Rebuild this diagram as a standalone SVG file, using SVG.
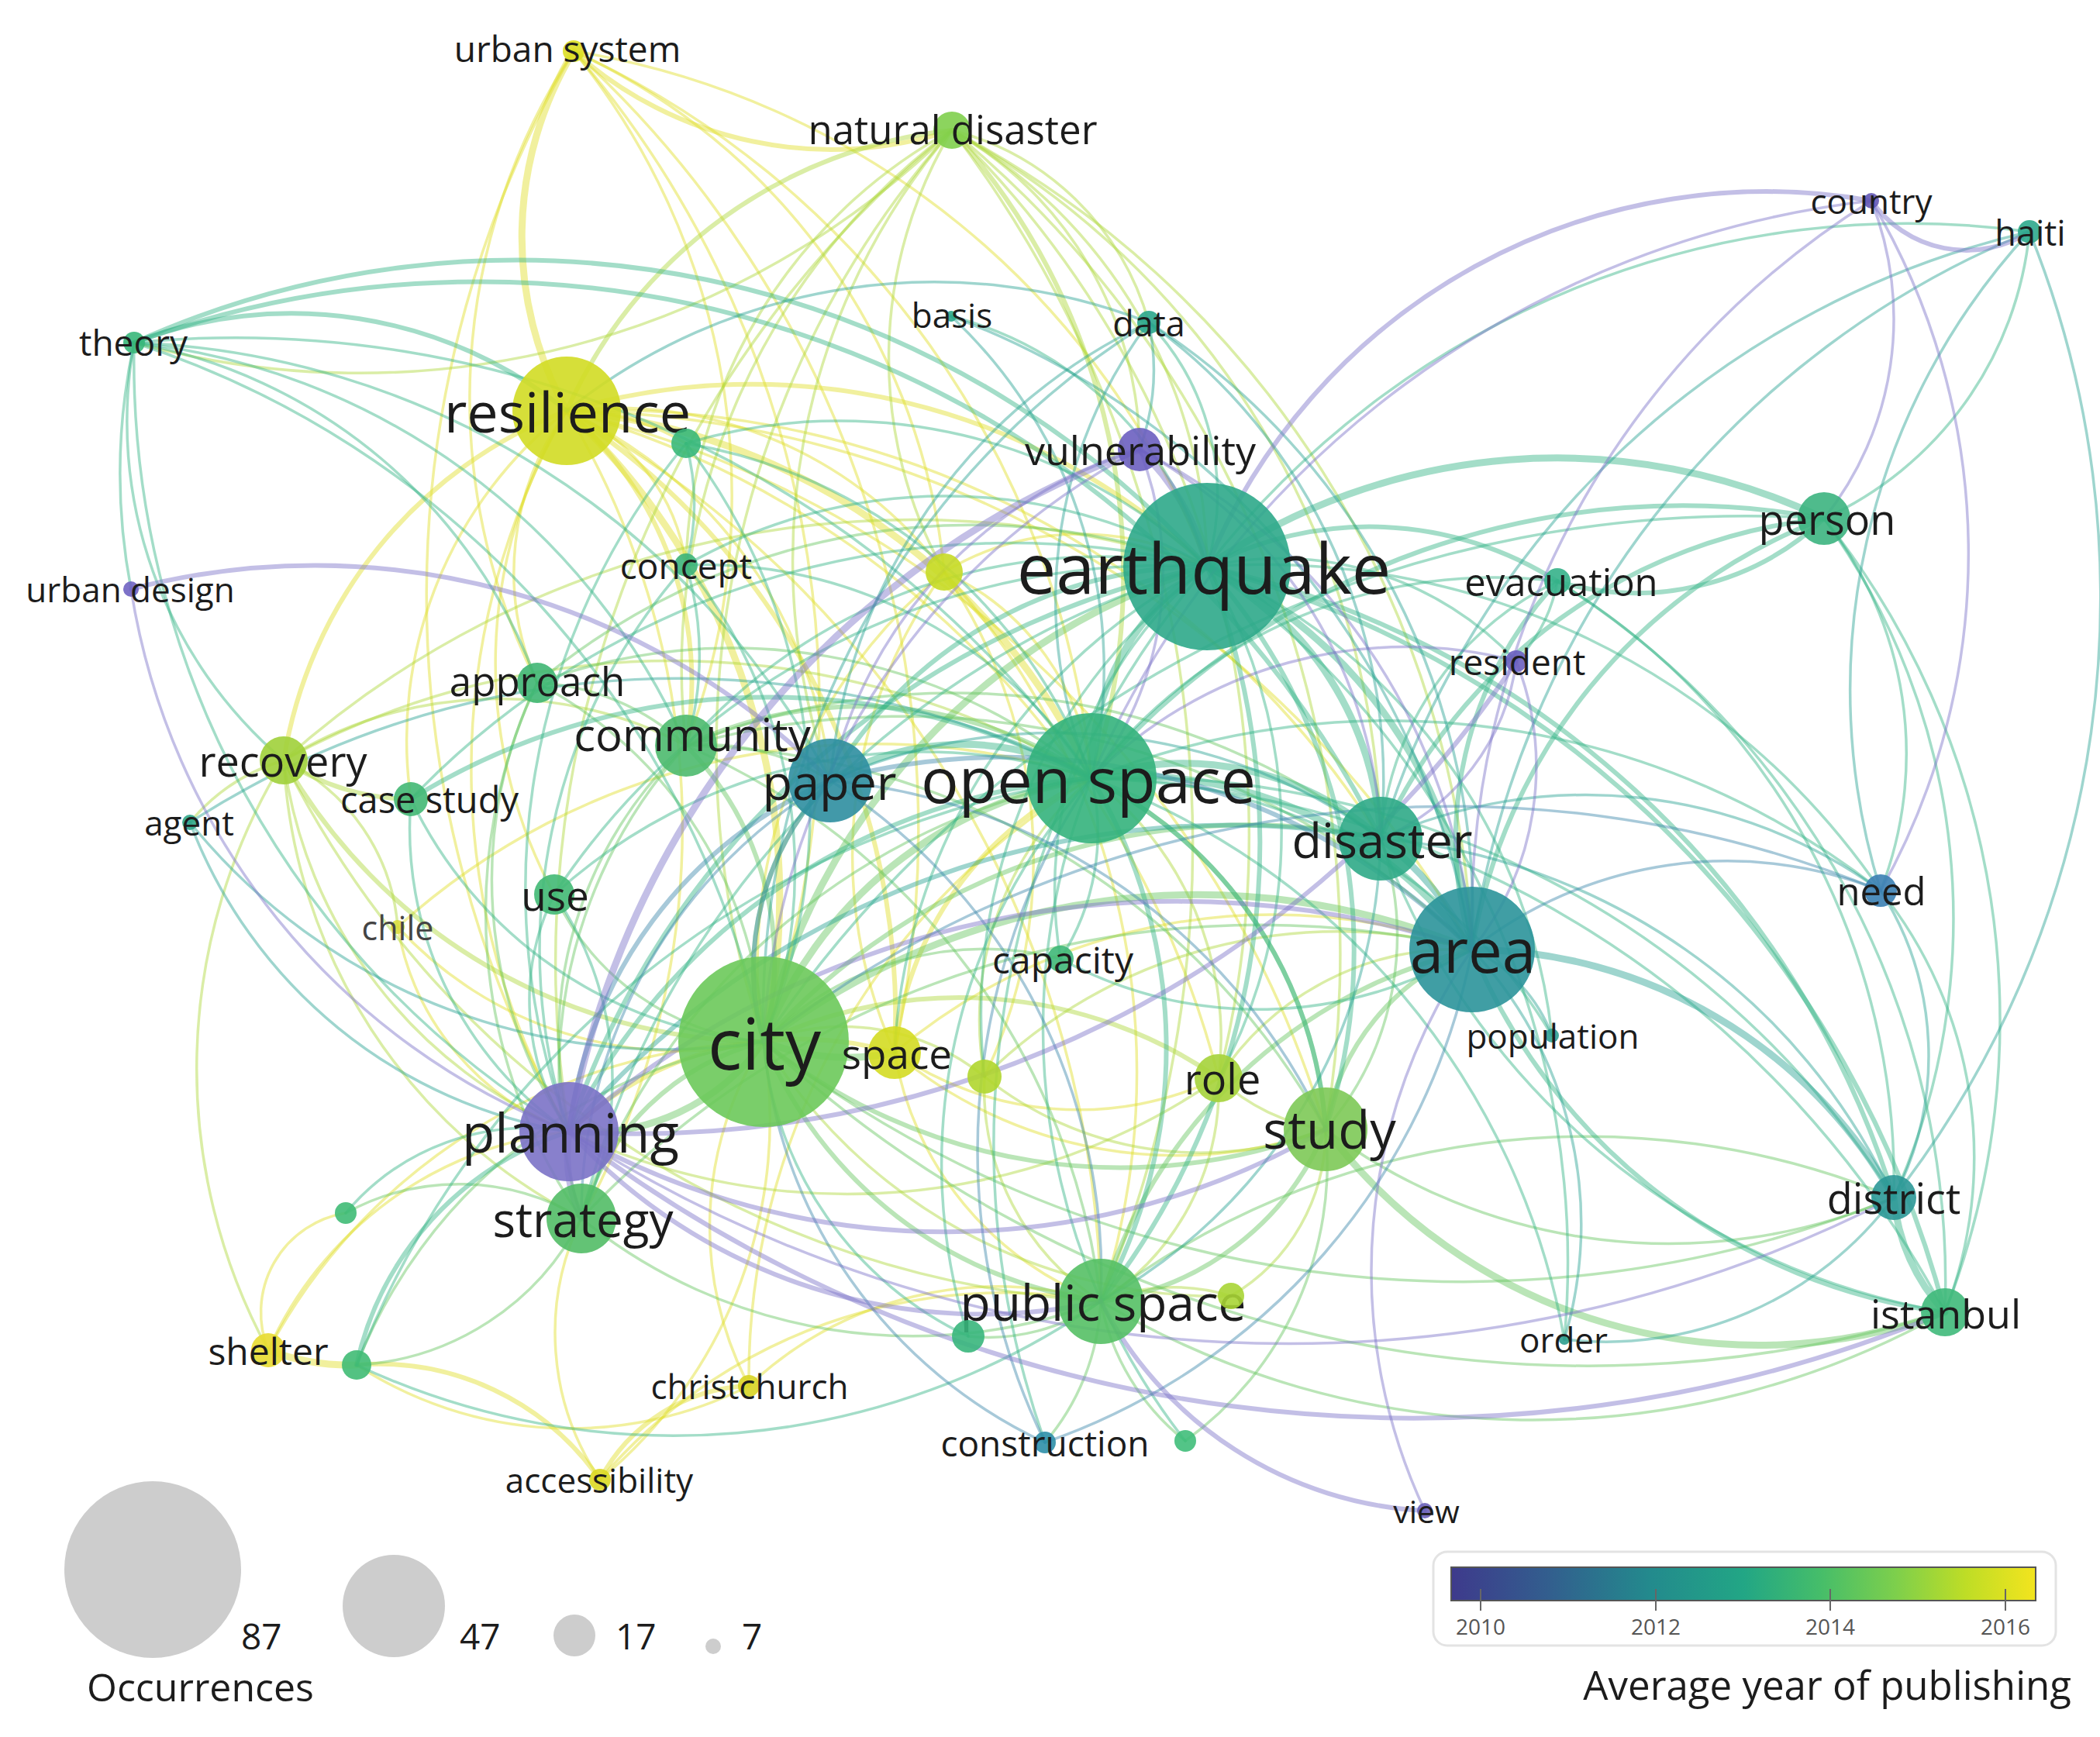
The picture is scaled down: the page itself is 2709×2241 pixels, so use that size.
<svg xmlns="http://www.w3.org/2000/svg" width="2709" height="2241" viewBox="0 0 2709 2241">
<defs>
<linearGradient id="vir" x1="0" y1="0" x2="1" y2="0">
<stop offset="0" stop-color="#3e3a8c"/>
<stop offset="0.17" stop-color="#325f8e"/>
<stop offset="0.34" stop-color="#238a8d"/>
<stop offset="0.5" stop-color="#22a685"/>
<stop offset="0.63" stop-color="#45bd6a"/>
<stop offset="0.76" stop-color="#7dcf4c"/>
<stop offset="0.88" stop-color="#bedd26"/>
<stop offset="1" stop-color="#f3e41e"/>
</linearGradient>
<style>
.e path{fill:none;stroke-opacity:.45;stroke-width:3.5;stroke-linecap:round}
.e path.m{stroke-width:6}
.e path.k{stroke-width:9}
.cY path{stroke:#e0dd28}
.cV path{stroke:#aed63a}
.cL path{stroke:#66c660}
.cG path{stroke:#33b485}
.cT path{stroke:#27a292}
.cB path{stroke:#3b88aa}
.cP path{stroke:#7a70c8}
.nd circle{fill-opacity:.9}
.nd text{font-family:"Open Sans","Noto Sans","DejaVu Sans",sans-serif;fill:#1c1c1c;text-anchor:middle;dominant-baseline:central}
.lg{font-family:"Open Sans","Noto Sans","DejaVu Sans",sans-serif;fill:#1c1c1c}
</style>
</defs>
<rect width="2709" height="2241" fill="#fff"/>
<g id="connectors" class="e">
<g class="cY">
<path class="k" d="M740 66A464 464 0 0 0 731 530"/>
<path class="m" d="M740 66A499 499 0 0 0 1228 168"/>
<path d="M740 66A1301 1301 0 0 1 985 1344"/>
<path d="M740 66A1357 1357 0 0 1 1154 1358"/>
<path d="M740 66A1152 1152 0 0 1 1408 1004"/>
<path d="M740 66A1053 1053 0 0 1 1557 731"/>
<path d="M740 66A825 825 0 0 1 1218 738"/>
<path d="M740 66A908 908 0 0 1 885 962"/>
<path d="M740 66A816 816 0 0 0 693 881"/>
<path d="M740 66A1394 1394 0 0 0 734 1460"/>
<path class="k" d="M731 530A853 853 0 0 1 985 1344"/>
<path d="M731 530A930 930 0 0 0 734 1460"/>
<path class="m" d="M731 530A459 459 0 0 1 885 962"/>
<path d="M731 530A353 353 0 0 0 693 881"/>
<path class="m" d="M731 530A580 580 0 0 0 366 981"/>
<path class="m" d="M731 530A850 850 0 0 1 1557 731"/>
<path class="k" d="M731 530A826 826 0 0 1 1408 1004"/>
<path d="M731 530A586 586 0 0 1 1071 1007"/>
<path d="M731 530A1186 1186 0 0 1 1781 1082"/>
<path d="M731 530A252 252 0 0 1 885 729"/>
<path class="m" d="M731 530A930 930 0 0 1 1154 1358"/>
<path d="M731 530A1348 1348 0 0 1 1710 1457"/>
<path d="M731 530A1042 1042 0 0 1 750 1572"/>
<path d="M731 530A624 624 0 0 0 715 1154"/>
<path d="M731 530A530 530 0 0 1 1218 738"/>
<path d="M731 530A1359 1359 0 0 1 1899 1225"/>
<path d="M731 530A1204 1204 0 0 1 1572 1391"/>
<path d="M731 530A1340 1340 0 0 1 1420 1679"/>
<path d="M731 530A540 540 0 0 0 530 1031"/>
<path d="M731 530A300 300 0 0 1 885 572"/>
<path d="M1218 738A649 649 0 0 0 985 1344"/>
<path d="M1218 738A327 327 0 0 1 1408 1004"/>
<path d="M1218 738A339 339 0 0 1 1557 731"/>
<path d="M1218 738A623 623 0 0 0 1154 1358"/>
<path d="M1218 738A653 653 0 0 1 1270 1389"/>
<path d="M1218 738A962 962 0 0 1 1420 1679"/>
<path class="m" d="M1154 1358A436 436 0 0 1 1408 1004"/>
<path d="M1154 1358A757 757 0 0 1 1899 1225"/>
<path d="M1154 1358A565 565 0 0 0 1710 1457"/>
<path d="M1154 1358A417 417 0 0 0 1420 1679"/>
<path class="m" d="M1154 1358A432 432 0 0 0 734 1460"/>
<path d="M1154 1358A419 419 0 0 0 1572 1391"/>
<path class="k" d="M346 1742A300 300 0 0 0 460 1761"/>
<path d="M346 1742A753 753 0 0 1 985 1344"/>
<path d="M346 1742A480 480 0 0 1 734 1460"/>
<path d="M346 1742A130 130 0 0 1 446 1565"/>
<path d="M513 1196A495 495 0 0 0 985 1344"/>
<path d="M513 1196A344 344 0 0 0 734 1460"/>
<path d="M513 1196A915 915 0 0 1 1408 1004"/>
<path d="M966 1788A444 444 0 0 1 985 1344"/>
<path class="m" d="M966 1788A227 227 0 0 0 774 1909"/>
<path d="M966 1788A467 467 0 0 1 1420 1679"/>
<path d="M966 1788A507 507 0 0 1 460 1761"/>
<path d="M966 1788A900 900 0 0 1 1408 1004"/>
<path class="m" d="M774 1909A347 347 0 0 0 460 1761"/>
<path d="M774 1909A338 338 0 0 1 750 1572"/>
<path d="M774 1909A603 603 0 0 0 985 1344"/>
<path d="M774 1909A686 686 0 0 1 1420 1679"/>
</g>
<g class="cV">
<path class="m" d="M1228 168A615 615 0 0 0 731 530"/>
<path d="M1228 168A652 652 0 0 1 1557 731"/>
<path class="m" d="M1228 168A855 855 0 0 1 1408 1004"/>
<path d="M1228 168A1201 1201 0 0 0 985 1344"/>
<path d="M1228 168A355 355 0 0 1 1482 416"/>
<path d="M1228 168A478 478 0 0 1 1470 580"/>
<path d="M1228 168A865 865 0 0 0 885 962"/>
<path d="M1228 168A854 854 0 0 0 1071 1007"/>
<path d="M1228 168A1068 1068 0 0 1 1781 1082"/>
<path d="M1228 168A1252 1252 0 0 1 1899 1225"/>
<path d="M1228 168A1090 1090 0 0 1 173 442"/>
<path d="M1228 168A1376 1376 0 0 1 1710 1457"/>
<path d="M1228 168A570 570 0 0 0 1218 738"/>
<path d="M1228 168A1270 1270 0 0 1 1572 1391"/>
<path d="M1228 168A657 657 0 0 0 885 729"/>
<path d="M1228 168A1523 1523 0 0 1 1420 1679"/>
<path d="M1228 168A1383 1383 0 0 0 734 1460"/>
<path class="m" d="M366 981A718 718 0 0 0 985 1344"/>
<path d="M366 981A604 604 0 0 0 734 1460"/>
<path d="M366 981A705 705 0 0 0 750 1572"/>
<path d="M366 981A761 761 0 0 0 346 1742"/>
<path d="M366 981A1042 1042 0 0 1 1408 1004"/>
<path class="m" d="M366 981A300 300 0 0 0 530 1031"/>
<path d="M366 981A250 250 0 0 0 245 1061"/>
<path d="M366 981A1264 1264 0 0 0 1420 1679"/>
<path d="M366 981A1217 1217 0 0 1 1557 731"/>
<path d="M366 981A260 260 0 0 1 513 1196"/>
<path d="M366 981A519 519 0 0 1 885 962"/>
<path d="M1270 1389A288 288 0 0 0 985 1344"/>
<path d="M1270 1389A409 409 0 0 1 1408 1004"/>
<path d="M1270 1389A326 326 0 0 0 1420 1679"/>
<path d="M1270 1389A445 445 0 0 0 1710 1457"/>
<path d="M1270 1389A650 650 0 0 1 1899 1225"/>
<path class="m" d="M1572 1391A589 589 0 0 0 985 1344"/>
<path d="M1572 1391A420 420 0 0 0 1408 1004"/>
<path d="M1572 1391A367 367 0 0 1 1899 1225"/>
<path d="M1572 1391A326 326 0 0 1 1420 1679"/>
<path d="M1572 1391A250 250 0 0 0 1710 1457"/>
<path d="M1572 1391A841 841 0 0 1 734 1460"/>
<path d="M1588 1672A250 250 0 0 0 1420 1679"/>
<path d="M1588 1672A247 247 0 0 0 1710 1457"/>
<path d="M1588 1672A686 686 0 0 1 985 1344"/>
</g>
<g class="cL">
<path class="k" d="M985 1344A277 277 0 0 1 734 1460"/>
<path class="k" d="M985 1344A300 300 0 0 0 1154 1358"/>
<path class="m" d="M985 1344A734 734 0 0 0 1710 1457"/>
<path class="m" d="M985 1344A549 549 0 0 0 1420 1679"/>
<path class="m" d="M985 1344A327 327 0 0 0 750 1572"/>
<path d="M985 1344A670 670 0 0 0 460 1761"/>
<path d="M985 1344A1472 1472 0 0 0 2443 1545"/>
<path d="M985 1344A1563 1563 0 0 0 2509 1693"/>
<path class="k" d="M985 1344A543 543 0 0 1 1408 1004"/>
<path class="k" d="M985 1344A922 922 0 0 1 1899 1225"/>
<path class="m" d="M985 1344A838 838 0 0 1 1781 1082"/>
<path class="m" d="M985 1344A348 348 0 0 1 1071 1007"/>
<path class="k" d="M985 1344A838 838 0 0 1 1557 731"/>
<path d="M985 1344A330 330 0 0 1 715 1154"/>
<path d="M985 1344A398 398 0 0 1 1368 1237"/>
<path class="m" d="M1710 1457A365 365 0 0 1 1420 1679"/>
<path d="M1710 1457A738 738 0 0 0 2443 1545"/>
<path class="k" d="M1710 1457A700 700 0 0 0 2509 1693"/>
<path d="M1710 1457A441 441 0 0 1 1529 1859"/>
<path class="m" d="M1710 1457A299 299 0 0 1 1899 1225"/>
<path d="M1710 1457A382 382 0 0 0 1781 1082"/>
<path class="m" d="M1710 1457A544 544 0 0 0 1408 1004"/>
<path d="M750 1572A678 678 0 0 0 1420 1679"/>
<path d="M750 1572A346 346 0 0 1 460 1761"/>
<path d="M750 1572A304 304 0 0 0 446 1565"/>
<path d="M750 1572A869 869 0 0 1 1408 1004"/>
<path d="M750 1572A1200 1200 0 0 1 1899 1225"/>
<path d="M1420 1679A300 300 0 0 1 1348 1861"/>
<path d="M1420 1679A250 250 0 0 1 1249 1724"/>
<path d="M1420 1679A300 300 0 0 0 1529 1859"/>
<path class="m" d="M1420 1679A660 660 0 0 1 1899 1225"/>
<path d="M1420 1679A1089 1089 0 0 0 2509 1693"/>
<path d="M1420 1679A1032 1032 0 0 1 2443 1545"/>
<path class="m" d="M885 962A395 395 0 0 1 985 1344"/>
<path class="m" d="M885 962A525 525 0 0 1 1408 1004"/>
<path d="M885 962A520 520 0 0 0 734 1460"/>
<path d="M885 962A300 300 0 0 1 1071 1007"/>
<path d="M885 962A904 904 0 0 1 1781 1082"/>
<path d="M885 962A1048 1048 0 0 1 1899 1225"/>
<path d="M885 962A962 962 0 0 1 1710 1457"/>
<path d="M885 962A625 625 0 0 0 750 1572"/>
<path d="M885 962A895 895 0 0 1 1420 1679"/>
<path d="M693 881A547 547 0 0 1 985 1344"/>
<path d="M693 881A580 580 0 0 0 734 1460"/>
<path d="M693 881A725 725 0 0 1 1408 1004"/>
<path d="M693 881A300 300 0 0 1 885 962"/>
<path d="M693 881A693 693 0 0 0 750 1572"/>
<path d="M693 881A877 877 0 0 1 1557 731"/>
</g>
<g class="cG">
<path class="k" d="M1557 731A311 311 0 0 0 1408 1004"/>
<path class="k" d="M1557 731A601 601 0 0 1 1899 1225"/>
<path class="k" d="M1557 731A416 416 0 0 1 1781 1082"/>
<path class="m" d="M1557 731A559 559 0 0 0 1071 1007"/>
<path class="m" d="M1557 731A1099 1099 0 0 0 734 1460"/>
<path class="m" d="M1557 731A742 742 0 0 1 1710 1457"/>
<path class="m" d="M1557 731A958 958 0 0 1 1420 1679"/>
<path class="m" d="M1557 731A452 452 0 0 1 2009 750"/>
<path d="M1557 731A417 417 0 0 1 1956 853"/>
<path d="M1557 731A711 711 0 0 0 885 962"/>
<path d="M1557 731A540 540 0 0 0 1368 1237"/>
<path d="M1557 731A745 745 0 0 0 1154 1358"/>
<path d="M1557 731A660 660 0 0 1 1572 1391"/>
<path class="m" d="M1557 731A1203 1203 0 0 1 2443 1545"/>
<path class="m" d="M1557 731A1354 1354 0 0 1 2509 1693"/>
<path d="M1557 731A964 964 0 0 1 2426 1149"/>
<path d="M1557 731A751 751 0 0 1 2002 1336"/>
<path d="M1557 731A1166 1166 0 0 0 750 1572"/>
<path d="M1557 731A942 942 0 0 0 715 1154"/>
<path d="M1557 731A718 718 0 0 0 1270 1389"/>
<path d="M1557 731A1098 1098 0 0 1 2018 1728"/>
<path d="M1557 731A1149 1149 0 0 0 1348 1861"/>
<path class="k" d="M1557 731A798 798 0 0 1 2353 669"/>
<path class="m" d="M173 442A1200 1200 0 0 1 1557 731"/>
<path d="M1557 731A324 324 0 0 0 1482 416"/>
<path d="M1557 731A462 462 0 0 0 1227 408"/>
<path d="M1557 731A1146 1146 0 0 1 2618 299"/>
<path class="k" d="M1408 1004A538 538 0 0 1 1899 1225"/>
<path class="k" d="M1408 1004A381 381 0 0 1 1781 1082"/>
<path class="m" d="M1408 1004A814 814 0 0 0 734 1460"/>
<path class="m" d="M1408 1004A544 544 0 0 1 1710 1457"/>
<path class="m" d="M1408 1004A675 675 0 0 1 1420 1679"/>
<path d="M1408 1004A300 300 0 0 1 1368 1237"/>
<path d="M1408 1004A1168 1168 0 0 1 2443 1545"/>
<path d="M1408 1004A1299 1299 0 0 1 2509 1693"/>
<path d="M1408 1004A1028 1028 0 0 1 2426 1149"/>
<path d="M1408 1004A709 709 0 0 0 715 1154"/>
<path d="M1408 1004A680 680 0 0 1 2002 1336"/>
<path d="M1408 1004A947 947 0 0 1 2018 1728"/>
<path class="m" d="M1408 1004A1003 1003 0 0 1 2353 669"/>
<path d="M1408 1004A652 652 0 0 1 2009 750"/>
<path class="k" d="M1408 1004A337 337 0 0 0 1071 1007"/>
<path class="m" d="M173 442A565 565 0 0 1 731 530"/>
<path d="M173 442A1357 1357 0 0 1 1408 1004"/>
<path d="M173 442A1214 1214 0 0 1 985 1344"/>
<path d="M173 442A1162 1162 0 0 0 734 1460"/>
<path d="M173 442A882 882 0 0 1 885 962"/>
<path d="M173 442A800 800 0 0 0 169 760"/>
<path d="M173 442A680 680 0 0 1 693 881"/>
<path d="M173 442A1061 1061 0 0 1 1071 1007"/>
<path class="m" d="M173 442A1300 1300 0 0 1 1781 1082"/>
<path d="M173 442A573 573 0 0 0 366 981"/>
<path d="M885 572A691 691 0 0 1 1557 731"/>
<path d="M885 572A778 778 0 0 1 985 1344"/>
<path d="M885 572A901 901 0 0 0 734 1460"/>
<path d="M885 572A678 678 0 0 1 1408 1004"/>
<path d="M885 572A300 300 0 0 1 885 729"/>
<path d="M885 729A623 623 0 0 1 985 1344"/>
<path d="M885 729A591 591 0 0 1 1408 1004"/>
<path d="M885 729A672 672 0 0 1 1557 731"/>
<path d="M885 729A746 746 0 0 0 734 1460"/>
<path d="M885 729A400 400 0 0 1 885 962"/>
<path class="m" d="M2353 669A718 718 0 0 0 1899 1225"/>
<path class="m" d="M2353 669A705 705 0 0 0 1781 1082"/>
<path class="m" d="M2353 669A353 353 0 0 1 2009 750"/>
<path d="M2353 669A881 881 0 0 1 2443 1545"/>
<path d="M2353 669A1036 1036 0 0 1 2509 1693"/>
<path d="M2353 669A486 486 0 0 1 2426 1149"/>
<path d="M2353 669A1525 1525 0 0 0 985 1344"/>
<path d="M2353 669A455 455 0 0 0 2618 299"/>
<path d="M530 1031A552 552 0 0 0 985 1344"/>
<path d="M530 1031A475 475 0 0 0 734 1460"/>
<path class="m" d="M530 1031A878 878 0 0 1 1408 1004"/>
<path d="M530 1031A1070 1070 0 0 1 1557 731"/>
<path d="M715 1154A307 307 0 0 0 734 1460"/>
<path d="M715 1154A419 419 0 0 1 750 1572"/>
<path d="M1368 1237A531 531 0 0 0 1899 1225"/>
<path d="M446 1565A306 306 0 0 1 734 1460"/>
<path d="M1249 1724A463 463 0 0 1 985 1344"/>
<path d="M1249 1724A737 737 0 0 1 1408 1004"/>
<path class="m" d="M460 1761A407 407 0 0 1 734 1460"/>
<path d="M460 1761A963 963 0 0 0 1420 1679"/>
<path d="M460 1761A1213 1213 0 0 1 1408 1004"/>
<path d="M1529 1859A864 864 0 0 1 1408 1004"/>
<path class="k" d="M2509 1693A250 250 0 0 1 2443 1545"/>
<path class="m" d="M2509 1693A769 769 0 0 1 1899 1225"/>
<path d="M2509 1693A550 550 0 0 0 2426 1149"/>
<path d="M2509 1693A950 950 0 0 1 1781 1082"/>
<path class="m" d="M2009 750A488 488 0 0 0 1899 1225"/>
<path d="M2009 750A403 403 0 0 0 1781 1082"/>
<path d="M2009 750A906 906 0 0 1 2443 1545"/>
<path d="M2009 750A1067 1067 0 0 1 2509 1693"/>
<path d="M2009 750A200 200 0 0 1 1956 853"/>
</g>
<g class="cT">
<path class="k" d="M1781 1082A400 400 0 0 1 1899 1225"/>
<path class="m" d="M1781 1082A1113 1113 0 0 0 734 1460"/>
<path d="M1781 1082A698 698 0 0 1 1420 1679"/>
<path d="M1781 1082A648 648 0 0 1 2426 1149"/>
<path d="M1781 1082A808 808 0 0 1 2443 1545"/>
<path d="M1781 1082A714 714 0 0 0 1071 1007"/>
<path d="M1482 416A300 300 0 0 1 1470 580"/>
<path d="M1482 416A593 593 0 0 0 1408 1004"/>
<path d="M1482 416A910 910 0 0 1 1899 1225"/>
<path d="M1482 416A730 730 0 0 1 1781 1082"/>
<path d="M1482 416A760 760 0 0 0 731 530"/>
<path d="M1482 416A720 720 0 0 0 1071 1007"/>
<path d="M1482 416A1053 1053 0 0 0 985 1344"/>
<path d="M1227 408A1058 1058 0 0 1 1899 1225"/>
<path d="M1227 408A623 623 0 0 1 1408 1004"/>
<path d="M2618 299A1172 1172 0 0 0 1899 1225"/>
<path d="M2618 299A1258 1258 0 0 1 2443 1545"/>
<path d="M2618 299A871 871 0 0 0 2426 1149"/>
<path d="M2618 299A1146 1146 0 0 0 1781 1082"/>
<path d="M245 1061A631 631 0 0 0 734 1460"/>
<path d="M245 1061A792 792 0 0 0 985 1344"/>
<path d="M245 1061A1164 1164 0 0 1 1408 1004"/>
<path d="M2002 1336A200 200 0 0 0 1899 1225"/>
<path d="M2018 1728A463 463 0 0 0 2443 1545"/>
<path d="M2018 1728A517 517 0 0 0 1899 1225"/>
<path class="k" d="M2443 1545A631 631 0 0 0 1899 1225"/>
<path d="M2443 1545A396 396 0 0 0 2426 1149"/>
</g>
<g class="cB">
<path class="m" d="M1071 1007A348 348 0 0 0 985 1344"/>
<path class="m" d="M1071 1007A856 856 0 0 1 1899 1225"/>
<path class="m" d="M1071 1007A564 564 0 0 0 734 1460"/>
<path d="M1071 1007A782 782 0 0 1 1710 1457"/>
<path d="M1071 1007A757 757 0 0 1 1420 1679"/>
<path d="M1071 1007A650 650 0 0 0 750 1572"/>
<path d="M1899 1225A532 532 0 0 1 2426 1149"/>
<path d="M2426 1149A1454 1454 0 0 0 985 1344"/>
<path d="M1348 1861A842 842 0 0 0 1899 1225"/>
<path d="M1348 1861A859 859 0 0 1 1408 1004"/>
<path d="M1348 1861A632 632 0 0 1 985 1344"/>
</g>
<g class="cP">
<path class="k" d="M734 1460A200 200 0 0 0 750 1572"/>
<path class="m" d="M734 1460A720 720 0 0 0 1420 1679"/>
<path class="m" d="M734 1460A976 976 0 0 0 1710 1457"/>
<path class="m" d="M734 1460A1790 1790 0 0 0 2509 1693"/>
<path d="M734 1460A1711 1711 0 0 0 2443 1545"/>
<path class="m" d="M734 1460A1188 1188 0 0 1 1899 1225"/>
<path class="k" d="M1470 580A300 300 0 0 1 1557 731"/>
<path class="k" d="M1470 580A1147 1147 0 0 0 734 1460"/>
<path d="M1470 580A584 584 0 0 0 1071 1007"/>
<path d="M1470 580A775 775 0 0 1 1899 1225"/>
<path d="M1470 580A905 905 0 0 0 985 1344"/>
<path d="M1470 580A429 429 0 0 1 1408 1004"/>
<path d="M1470 580A590 590 0 0 1 1781 1082"/>
<path class="m" d="M2414 259A150 150 0 0 0 2618 299"/>
<path class="m" d="M2414 259A780 780 0 0 0 1557 731"/>
<path d="M2414 259A414 414 0 0 1 2353 669"/>
<path d="M2414 259A1095 1095 0 0 0 1899 1225"/>
<path d="M2414 259A890 890 0 0 1 2426 1149"/>
<path d="M2414 259A1252 1252 0 0 0 1408 1004"/>
<path d="M169 760A900 900 0 0 0 734 1460"/>
<path class="m" d="M169 760A935 935 0 0 1 1071 1007"/>
<path d="M1956 853A376 376 0 0 1 1899 1225"/>
<path d="M1956 853A568 568 0 0 0 1408 1004"/>
<path class="m" d="M1956 853A1364 1364 0 0 1 734 1460"/>
<path d="M1956 853A288 288 0 0 1 1781 1082"/>
<path d="M1838 1949A727 727 0 0 1 1899 1225"/>
<path class="m" d="M1420 1679A497 497 0 0 0 1838 1949"/>
</g>
</g>
<g id="nodes" class="nd">
<g id="n-city"><circle cx="985" cy="1344" r="110" fill="#6cc95a"/><text x="986" y="1344" font-size="92">city</text></g>
<g id="n-earthquake"><circle cx="1557" cy="731" r="108" fill="#2ea98a"/><text x="1553" y="731" font-size="90">earthquake</text></g>
<g id="n-open-space"><circle cx="1408" cy="1004" r="84" fill="#34b37c"/><text x="1404" y="1004" font-size="81">open space</text></g>
<g id="n-area"><circle cx="1899" cy="1225" r="81" fill="#2b939a"/><text x="1900" y="1225" font-size="78">area</text></g>
<g id="n-resilience"><circle cx="731" cy="530" r="70" fill="#d2dc24"/><text x="732" y="530" font-size="72">resilience</text></g>
<g id="n-planning"><circle cx="734" cy="1460" r="64" fill="#7b72c6"/><text x="736" y="1460" font-size="69">planning</text></g>
<g id="n-paper"><circle cx="1071" cy="1007" r="54" fill="#2e8ea0"/><text x="1070" y="1007" font-size="63">paper</text></g>
<g id="n-study"><circle cx="1710" cy="1457" r="54" fill="#7dc957"/><text x="1715" y="1456" font-size="67">study</text></g>
<g id="n-disaster"><circle cx="1781" cy="1082" r="54" fill="#2faa87"/><text x="1783" y="1082" font-size="63">disaster</text></g>
<g id="n-public-space"><circle cx="1420" cy="1679" r="55" fill="#55c065"/><text x="1423" y="1679" font-size="64">public space</text></g>
<g id="n-strategy"><circle cx="750" cy="1572" r="45" fill="#52bd66"/><text x="752" y="1572" font-size="62">strategy</text></g>
<g id="n-community"><circle cx="885" cy="962" r="40" fill="#4cba6e"/><text x="893" y="946" font-size="58">community</text></g>
<g id="n-person"><circle cx="2353" cy="669" r="34" fill="#3cb47f"/><text x="2357" y="669" font-size="54">person</text></g>
<g id="n-space"><circle cx="1154" cy="1358" r="34" fill="#d4db22"/><text x="1157" y="1358" font-size="53">space</text></g>
<g id="n-recovery"><circle cx="366" cy="981" r="31" fill="#a0d03a"/><text x="365" y="981" font-size="54">recovery</text></g>
<g id="n-role"><circle cx="1572" cy="1391" r="31" fill="#a5d33a"/><text x="1577" y="1391" font-size="54">role</text></g>
<g id="n-istanbul"><circle cx="2509" cy="1693" r="31" fill="#3fb97a"/><text x="2510" y="1693" font-size="52">istanbul</text></g>
<g id="n-district"><circle cx="2443" cy="1545" r="29" fill="#2c9897"/><text x="2443" y="1545" font-size="54">district</text></g>
<g id="n-vulnerability"><circle cx="1470" cy="580" r="28" fill="#6b5fc0"/><text x="1471" y="579" font-size="52">vulnerability</text></g>
<g id="n-approach"><circle cx="693" cy="881" r="26" fill="#3fb673"/><text x="693" y="878" font-size="51">approach</text></g>
<g id="n-use"><circle cx="715" cy="1154" r="26" fill="#41b974"/><text x="716" y="1154" font-size="53">use</text></g>
<g id="n-natural-disaster"><circle cx="1228" cy="168" r="24" fill="#80cf4c"/><text x="1229" y="166" font-size="51">natural disaster</text></g>
<g id="n-u2"><circle cx="1218" cy="738" r="24" fill="#c7da26"/></g>
<g id="n-case-study"><circle cx="530" cy="1031" r="22" fill="#43b874"/><text x="554" y="1031" font-size="47">case study</text></g>
<g id="n-u3"><circle cx="1270" cy="1389" r="22" fill="#b0d62e"/></g>
<g id="n-shelter"><circle cx="346" cy="1742" r="22" fill="#e8dc30"/><text x="346" y="1742" font-size="48">shelter</text></g>
<g id="n-need"><circle cx="2426" cy="1149" r="21" fill="#3b80b2"/><text x="2427" y="1149" font-size="49">need</text></g>
<g id="n-u6"><circle cx="1249" cy="1724" r="21" fill="#38b67c"/></g>
<g id="n-u1"><circle cx="885" cy="572" r="19" fill="#38b87a"/></g>
<g id="n-u7"><circle cx="460" cy="1761" r="19" fill="#40bb74"/></g>
<g id="n-capacity"><circle cx="1368" cy="1237" r="17" fill="#3fb878"/><text x="1371" y="1237" font-size="48">capacity</text></g>
<g id="n-evacuation"><circle cx="2009" cy="750" r="17" fill="#35b18a"/><text x="2014" y="750" font-size="49">evacuation</text></g>
<g id="n-u5"><circle cx="1588" cy="1672" r="17" fill="#a8d535"/></g>
<g id="n-data"><circle cx="1482" cy="416" r="15" fill="#2aa68c"/><text x="1482" y="416" font-size="45">data</text></g>
<g id="n-haiti"><circle cx="2618" cy="299" r="15" fill="#2ea98c"/><text x="2619" y="299" font-size="45">haiti</text></g>
<g id="n-concept"><circle cx="885" cy="729" r="15" fill="#3db47a"/><text x="885" y="729" font-size="46">concept</text></g>
<g id="n-urban-system"><circle cx="740" cy="66" r="14" fill="#dcde22"/><text x="732" y="62" font-size="46">urban system</text></g>
<g id="n-theory"><circle cx="173" cy="442" r="14" fill="#39b77a"/><text x="172" y="441" font-size="46">theory</text></g>
<g id="n-resident"><circle cx="1956" cy="853" r="14" fill="#6b5fc0"/><text x="1957" y="853" font-size="46">resident</text></g>
<g id="n-u4"><circle cx="446" cy="1565" r="14" fill="#3fbb76"/></g>
<g id="n-christchurch"><circle cx="966" cy="1788" r="14" fill="#d8d424"/><text x="967" y="1788" font-size="44">christchurch</text></g>
<g id="n-construction"><circle cx="1348" cy="1861" r="14" fill="#2e8fa8"/><text x="1348" y="1861" font-size="46">construction</text></g>
<g id="n-u8"><circle cx="1529" cy="1859" r="14" fill="#40be7a"/></g>
<g id="n-accessibility"><circle cx="774" cy="1909" r="14" fill="#dcd924"/><text x="773" y="1909" font-size="44">accessibility</text></g>
<g id="n-country"><circle cx="2414" cy="259" r="10" fill="#6458b5"/><text x="2414" y="259" font-size="44">country</text></g>
<g id="n-urban-design"><circle cx="169" cy="760" r="10" fill="#6f63c2"/><text x="168" y="760" font-size="44">urban design</text></g>
<g id="n-agent"><circle cx="245" cy="1061" r="10" fill="#2fa588"/><text x="244" y="1061" font-size="44">agent</text></g>
<g id="n-view"><circle cx="1838" cy="1949" r="10" fill="#6a60b8"/><text x="1840" y="1949" font-size="41">view</text></g>
<g id="n-population"><circle cx="2002" cy="1336" r="9" fill="#2f9e91"/><text x="2003" y="1336" font-size="44">population</text></g>
<g id="n-chile"><circle cx="513" cy="1196" r="9" fill="#dcdc40"/><text x="513" y="1196" font-size="43" style="fill:#444">chile</text></g>
<g id="n-basis"><circle cx="1227" cy="408" r="7" fill="#2aa68a"/><text x="1228" y="406" font-size="44">basis</text></g>
<g id="n-order"><circle cx="2018" cy="1728" r="7" fill="#2f9f8e"/><text x="2017" y="1728" font-size="44">order</text></g>
</g>
<g id="legend-occurrences">
<circle cx="197" cy="2025" r="114" fill="#cdcdcd"/>
<circle cx="508" cy="2072" r="66" fill="#cdcdcd"/>
<circle cx="741" cy="2110" r="27" fill="#cdcdcd"/>
<circle cx="920" cy="2124" r="10" fill="#cdcdcd"/>
<text class="lg" x="311" y="2128" font-size="46">87</text>
<text class="lg" x="593" y="2128" font-size="46">47</text>
<text class="lg" x="794" y="2128" font-size="46">17</text>
<text class="lg" x="957" y="2128" font-size="46">7</text>
<text class="lg" x="112" y="2195" font-size="50">Occurrences</text>
</g>
<g id="legend-year">
<rect x="1849" y="2002" width="803" height="121" rx="18" fill="#fff" stroke="#e3e3e3" stroke-width="3"/>
<rect x="1872" y="2022" width="754" height="43" fill="url(#vir)" stroke="#555" stroke-width="2"/>
<g stroke="#666" stroke-width="2">
<line x1="1910" y1="2050" x2="1910" y2="2078"/>
<line x1="2136" y1="2050" x2="2136" y2="2078"/>
<line x1="2361" y1="2050" x2="2361" y2="2078"/>
<line x1="2587" y1="2050" x2="2587" y2="2078"/>
</g>
<g class="lg" font-size="28" text-anchor="middle" style="fill:#555">
<text x="1910" y="2109">2010</text>
<text x="2136" y="2109">2012</text>
<text x="2361" y="2109">2014</text>
<text x="2587" y="2109">2016</text>
</g>
<text class="lg" x="2672" y="2193" font-size="51" text-anchor="end">Average year of publishing</text>
</g>
</svg>
